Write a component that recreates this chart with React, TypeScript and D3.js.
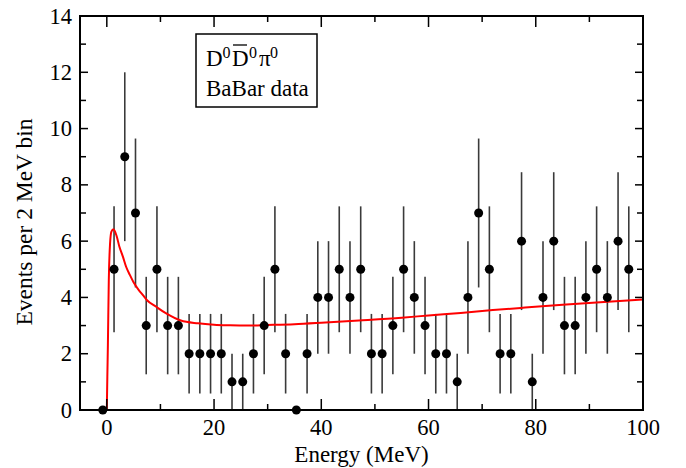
import React from "react";
import * as d3 from "d3";

// Bin centres (MeV) and event counts
const energies = [
  -0.75, 1.35, 3.35, 5.35, 7.35, 9.35, 11.35, 13.35, 15.35, 17.35, 19.35, 21.35, 23.35, 25.35,
  27.35, 29.35, 31.35, 33.35, 35.35, 37.35, 39.35, 41.35, 43.35, 45.35, 47.35, 49.35, 51.35,
  53.35, 55.35, 57.35, 59.35, 61.35, 63.35, 65.35, 67.35, 69.35, 71.35, 73.35, 75.35, 77.35,
  79.35, 81.35, 83.35, 85.35, 87.35, 89.35, 91.35, 93.35, 95.35, 97.35,
];
const counts = [
  0, 5, 9, 7, 3, 5, 3, 3, 2, 2, 2, 2, 1, 1, 2, 3, 5, 2, 0, 2, 4, 4, 5, 4, 5, 2, 2, 3, 5, 4, 3, 2,
  2, 1, 4, 7, 5, 2, 2, 6, 1, 4, 6, 3, 3, 4, 5, 4, 6, 5,
];

// Fit curve samples
const curveE = [
  0, 0.1, 0.2, 0.37, 0.6, 0.86, 1.23, 1.8, 2.35, 3.0, 3.6, 4.3, 5.1, 6.0, 6.7, 7.5, 9.2, 11.0,
  13.8, 17, 20, 23, 26, 30, 35, 40, 47, 55, 60, 66, 72, 78, 85, 92, 100,
];
const curveV = [
  0, 1.2, 2.3, 4.6, 5.9, 6.34, 6.42, 6.2, 5.8, 5.45, 5.09, 4.8, 4.5, 4.25, 4.09, 3.9, 3.67, 3.44,
  3.18, 3.08, 3.03, 3.01, 3.0, 3.02, 3.05, 3.1, 3.18, 3.28, 3.36, 3.45, 3.55, 3.64, 3.74, 3.83,
  3.93,
];

const xMajor = [0, 20, 40, 60, 80, 100];
const xMinor = [10, 30, 50, 70, 90];
const yMajor = [0, 2, 4, 6, 8, 10, 12, 14];
const yMinor = [1, 3, 5, 7, 9, 11, 13];

const W = 686;
const H = 468;
const L = 80, R = 643, T = 16, B = 410;
const FONT = "'Liberation Serif', 'Times New Roman', serif";

export default function App() {
  const x = d3.scaleLinear().domain([-5, 100]).range([L, R]);
  const y = d3.scaleLinear().domain([0, 14]).range([B, T]);

  const curvePts = curveE.map((e, i) => [e, curveV[i]] as [number, number]);
  const line = d3
    .line<[number, number]>()
    .x((d) => x(d[0]))
    .y((d) => y(d[1]))
    .curve(d3.curveMonotoneX);

  return (
    <svg
      width={W}
      height={H}
      style={{ position: "absolute", left: 0, top: 0, background: "#fff" }}
      fontFamily={FONT}
    >
      <rect x={0} y={0} width={W} height={H} fill="#fff" />
      {/* error bars */}
      {energies.map((e, i) => {
        const n = counts[i];
        if (n <= 0) return null;
        const s = Math.sqrt(n);
        return (
          <line
            key={"eb" + i}
            x1={x(e)}
            x2={x(e)}
            y1={y(Math.max(0, n - s))}
            y2={y(n + s)}
            stroke="#3a3a3a"
            strokeWidth={1.6}
          />
        );
      })}
      {/* fit curve */}
      <path d={line(curvePts) || ""} fill="none" stroke="#ff0000" strokeWidth={2} />
      {/* points */}
      {energies.map((e, i) => (
        <circle key={"pt" + i} cx={x(e)} cy={y(counts[i])} r={4.5} fill="#000" />
      ))}
      {/* frame */}
      <rect x={L} y={T} width={R - L} height={B - T} fill="none" stroke="#000" strokeWidth={2} />
      {/* x ticks */}
      {xMajor.map((v) => (
        <g key={"xM" + v}>
          <line x1={x(v)} x2={x(v)} y1={B} y2={B - 11} stroke="#000" strokeWidth={1.5} />
          <line x1={x(v)} x2={x(v)} y1={T} y2={T + 11} stroke="#000" strokeWidth={1.5} />
          <text x={x(v)} y={B + 25} textAnchor="middle" fontSize={22.5} fill="#000">
            {v}
          </text>
        </g>
      ))}
      {xMinor.map((v) => (
        <g key={"xm" + v}>
          <line x1={x(v)} x2={x(v)} y1={B} y2={B - 6} stroke="#000" strokeWidth={1.5} />
          <line x1={x(v)} x2={x(v)} y1={T} y2={T + 6} stroke="#000" strokeWidth={1.5} />
        </g>
      ))}
      {/* y ticks */}
      {yMajor.map((v) => (
        <g key={"yM" + v}>
          <line x1={L} x2={L + 8} y1={y(v)} y2={y(v)} stroke="#000" strokeWidth={1.5} />
          <line x1={R} x2={R - 8} y1={y(v)} y2={y(v)} stroke="#000" strokeWidth={1.5} />
          <text x={L - 8} y={y(v) + 7.5} textAnchor="end" fontSize={22.5} fill="#000">
            {v}
          </text>
        </g>
      ))}
      {yMinor.map((v) => (
        <g key={"ym" + v}>
          <line x1={L} x2={L + 6} y1={y(v)} y2={y(v)} stroke="#000" strokeWidth={1.5} />
          <line x1={R} x2={R - 6} y1={y(v)} y2={y(v)} stroke="#000" strokeWidth={1.5} />
        </g>
      ))}
      {/* axis titles */}
      <text x={(L + R) / 2} y={462} textAnchor="middle" fontSize={23} fill="#000">
        Energy (MeV)
      </text>
      <text
        transform={`translate(32, ${(T + B) / 2 + 9}) rotate(-90)`}
        textAnchor="middle"
        fontSize={23.5}
        fill="#000"
      >
        Events per 2 MeV bin
      </text>
      {/* legend box */}
      <rect x={196} y={34} width={121} height={73} fill="#fff" stroke="#000" strokeWidth={1.5} />
      <g fill="#000">
        <text x={206} y={66} fontSize={23}>D</text>
        <text x={222.5} y={58} fontSize={16}>0</text>
        <text x={232} y={66} fontSize={23}>D</text>
        <line x1={233} x2={247} y1={45} y2={45} stroke="#000" strokeWidth={1.3} />
        <text x={249} y={58} fontSize={16}>0</text>
        <text x={259} y={66} fontSize={23}>π</text>
        <text x={270} y={58} fontSize={16}>0</text>
      </g>
      <text x={206} y={96} fontSize={23} fill="#000">
        BaBar data
      </text>
    </svg>
  );
}
